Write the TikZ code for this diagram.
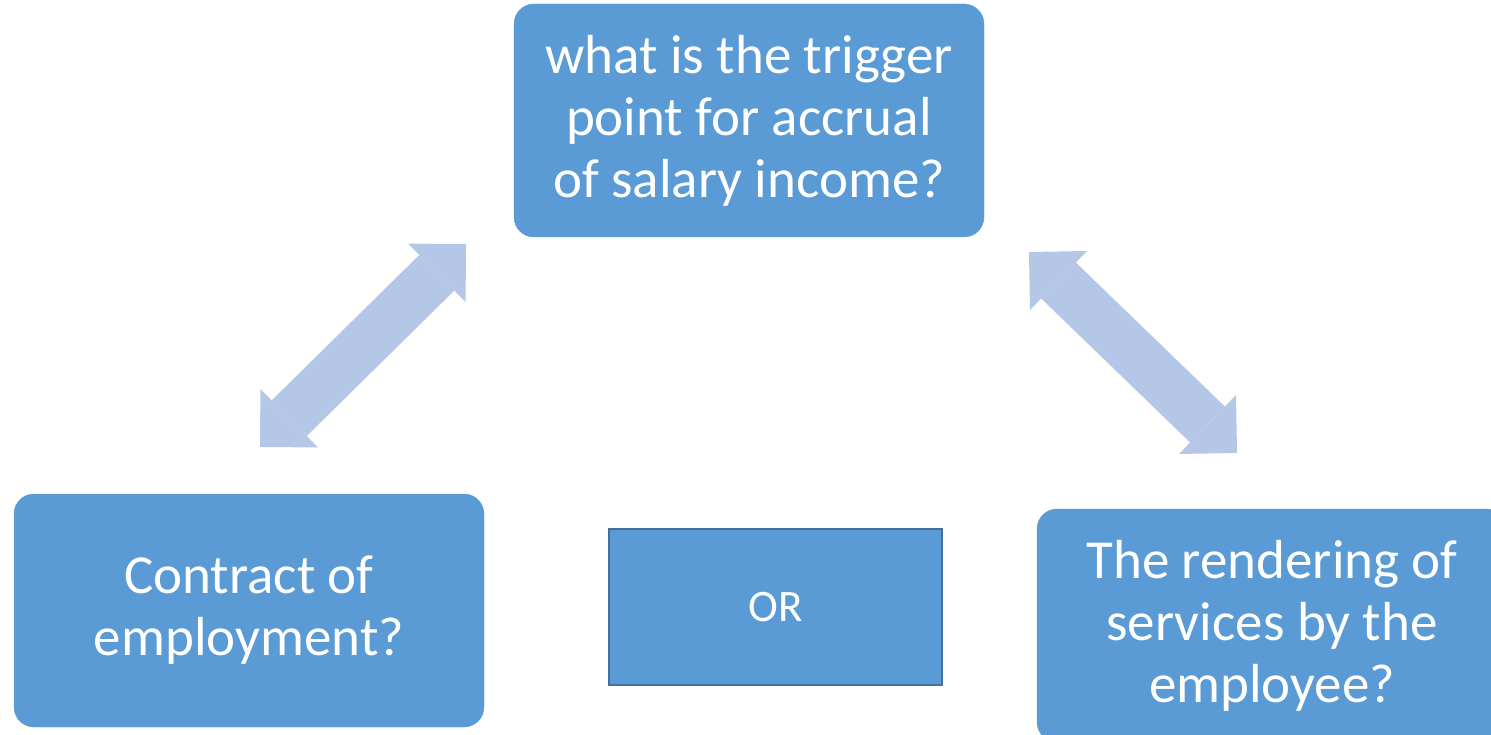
\documentclass[tikz,border=0pt]{standalone}
\usepackage{fontspec}
\setmainfont{Carlito}
\usetikzlibrary{arrows.meta}
\definecolor{boxblue}{HTML}{5B9BD5}
\definecolor{boxedge}{HTML}{41719C}
\definecolor{arrowblue}{HTML}{B4C7E7}
\begin{document}
\begin{tikzpicture}[x=1pt,y=-1pt,
  bigbox/.style={fill=boxblue, draw=boxblue, rounded corners=20pt, minimum width=470pt, minimum height=233pt,
    text=white, align=center, font=\fontsize{55}{62}\selectfont, inner sep=0pt},
  orbox/.style={fill=boxblue, draw=boxedge, line width=2.5pt, minimum width=333pt, minimum height=156pt,
    text=white, font=\fontsize{45}{54}\selectfont, inner sep=0pt},
  dblarrow/.style={draw=arrowblue, line width=50pt,
    {Triangle[width=82pt,length=41pt,line width=0pt]}-{Triangle[width=82pt,length=41pt,line width=0pt]}}]
\useasboundingbox (0,0) rectangle (1491,735);
\begin{scope}
\clip (0,0) rectangle (1491,735);
\node[bigbox] (top) at (749,120.5) {what is the trigger\\point for accrual\\of salary income?};
\node[bigbox] (left) at (249,610.5) {Contract of\\employment?};
\node[bigbox] (right) at (1272,625.5) {The rendering of\\services by the\\employee?};
\node[orbox] (or) at (775.5,607) {OR};
\coordinate (la) at (466,244);
\coordinate (lb) at (260,447);
\coordinate (ra) at (1029,252);
\coordinate (rb) at (1237,453);
\draw[dblarrow] (la) -- (lb);
\draw[dblarrow] (ra) -- (rb);
\end{scope}
\end{tikzpicture}
\end{document}
